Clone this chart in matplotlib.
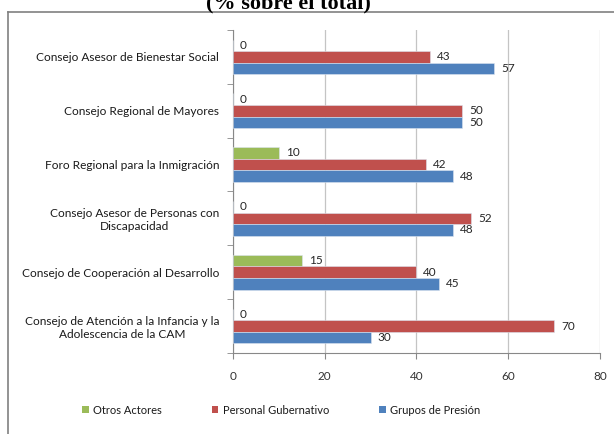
import numpy as np
import matplotlib.pyplot as plt
from matplotlib.lines import Line2D
from matplotlib.patches import Patch

categories = [
    'Consejo Asesor de Bienestar Social',
    'Consejo Regional de Mayores',
    'Foro Regional para la Inmigración',
    'Consejo Asesor de Personas con\nDiscapacidad',
    'Consejo de Cooperación al Desarrollo',
    'Consejo de Atención a la Infancia y la\nAdolescencia de la CAM',
]
otros = [0, 0, 10, 0, 15, 0]
personal = [43, 50, 42, 52, 40, 70]
grupos = [57, 50, 48, 48, 45, 30]

series_names = ['Otros Actores', 'Personal Gubernativo', 'Grupos de Presión']
colors = ['#9BBB59', '#C0504D', '#4F81BD']

plt.rcParams['font.family'] = ['Lato', 'DejaVu Sans']

fig = plt.figure(figsize=(6.14, 4.34), dpi=100)
ax = fig.add_axes([0.3795, 0.1866, 0.5975, 0.7444])

n = len(categories)
centers = np.arange(n)  # top to bottom via inverted axis
h = 0.215
series = [otros, personal, grupos]
for i, (vals, col) in enumerate(zip(series, colors)):
    ypos = centers + (i - 1) * h
    ax.barh(ypos, vals, height=h, color=col, edgecolor='#dbe4f0', linewidth=0.4, zorder=3)
    for y, v in zip(ypos, vals):
        ax.annotate(str(v), (v, y), xytext=(5, 0), textcoords='offset points',
                    ha='left', va='center', fontsize=8.5, color='#262626')

ax.set_xlim(0, 80)
ax.set_ylim(n - 0.5, -0.5)
ax.set_xticks([0, 20, 40, 60, 80])
ax.set_yticks(centers)
ax.set_yticklabels(categories, fontsize=8.6, color='#1a1a1a', multialignment='center')
ax.set_yticks(np.arange(n + 1) - 0.5, minor=True)
ax.tick_params(axis='y', which='major', length=0, pad=10)
ax.tick_params(axis='y', which='minor', length=4, color='#888888', direction='out')
ax.tick_params(axis='x', length=4, color='#888888', labelsize=8.5, labelcolor='#333333', pad=9)
ax.grid(axis='x', color='#C4C4C4', linewidth=0.9, zorder=0)
for s in ['top', 'right']:
    ax.spines[s].set_visible(False)
for s in ['left', 'bottom']:
    ax.spines[s].set_color('#888888')

# outer chart frame (partially visible)
fig.add_artist(Line2D([8 / 614, 8 / 614], [0, 1 - 12 / 434], color='#808080', lw=1.2))
fig.add_artist(Line2D([8 / 614, 1], [1 - 12 / 434, 1 - 12 / 434], color='#808080', lw=1.2))

fig.text(0.470, 1 - 8 / 434, '(% sobre el total)', ha='center', va='baseline',
         fontsize=16, fontweight='bold', family='Liberation Serif')

handles = [Patch(facecolor=c) for c in colors]
fig.legend(handles, series_names, loc='center', bbox_to_anchor=(0.458, 1 - 410 / 434), ncol=3,
           frameon=False, fontsize=8, handlelength=0.6, handleheight=0.6, handletextpad=0.4,
           columnspacing=4.5, labelcolor='#1a1a1a')

fig.savefig('out.png', dpi=100)
